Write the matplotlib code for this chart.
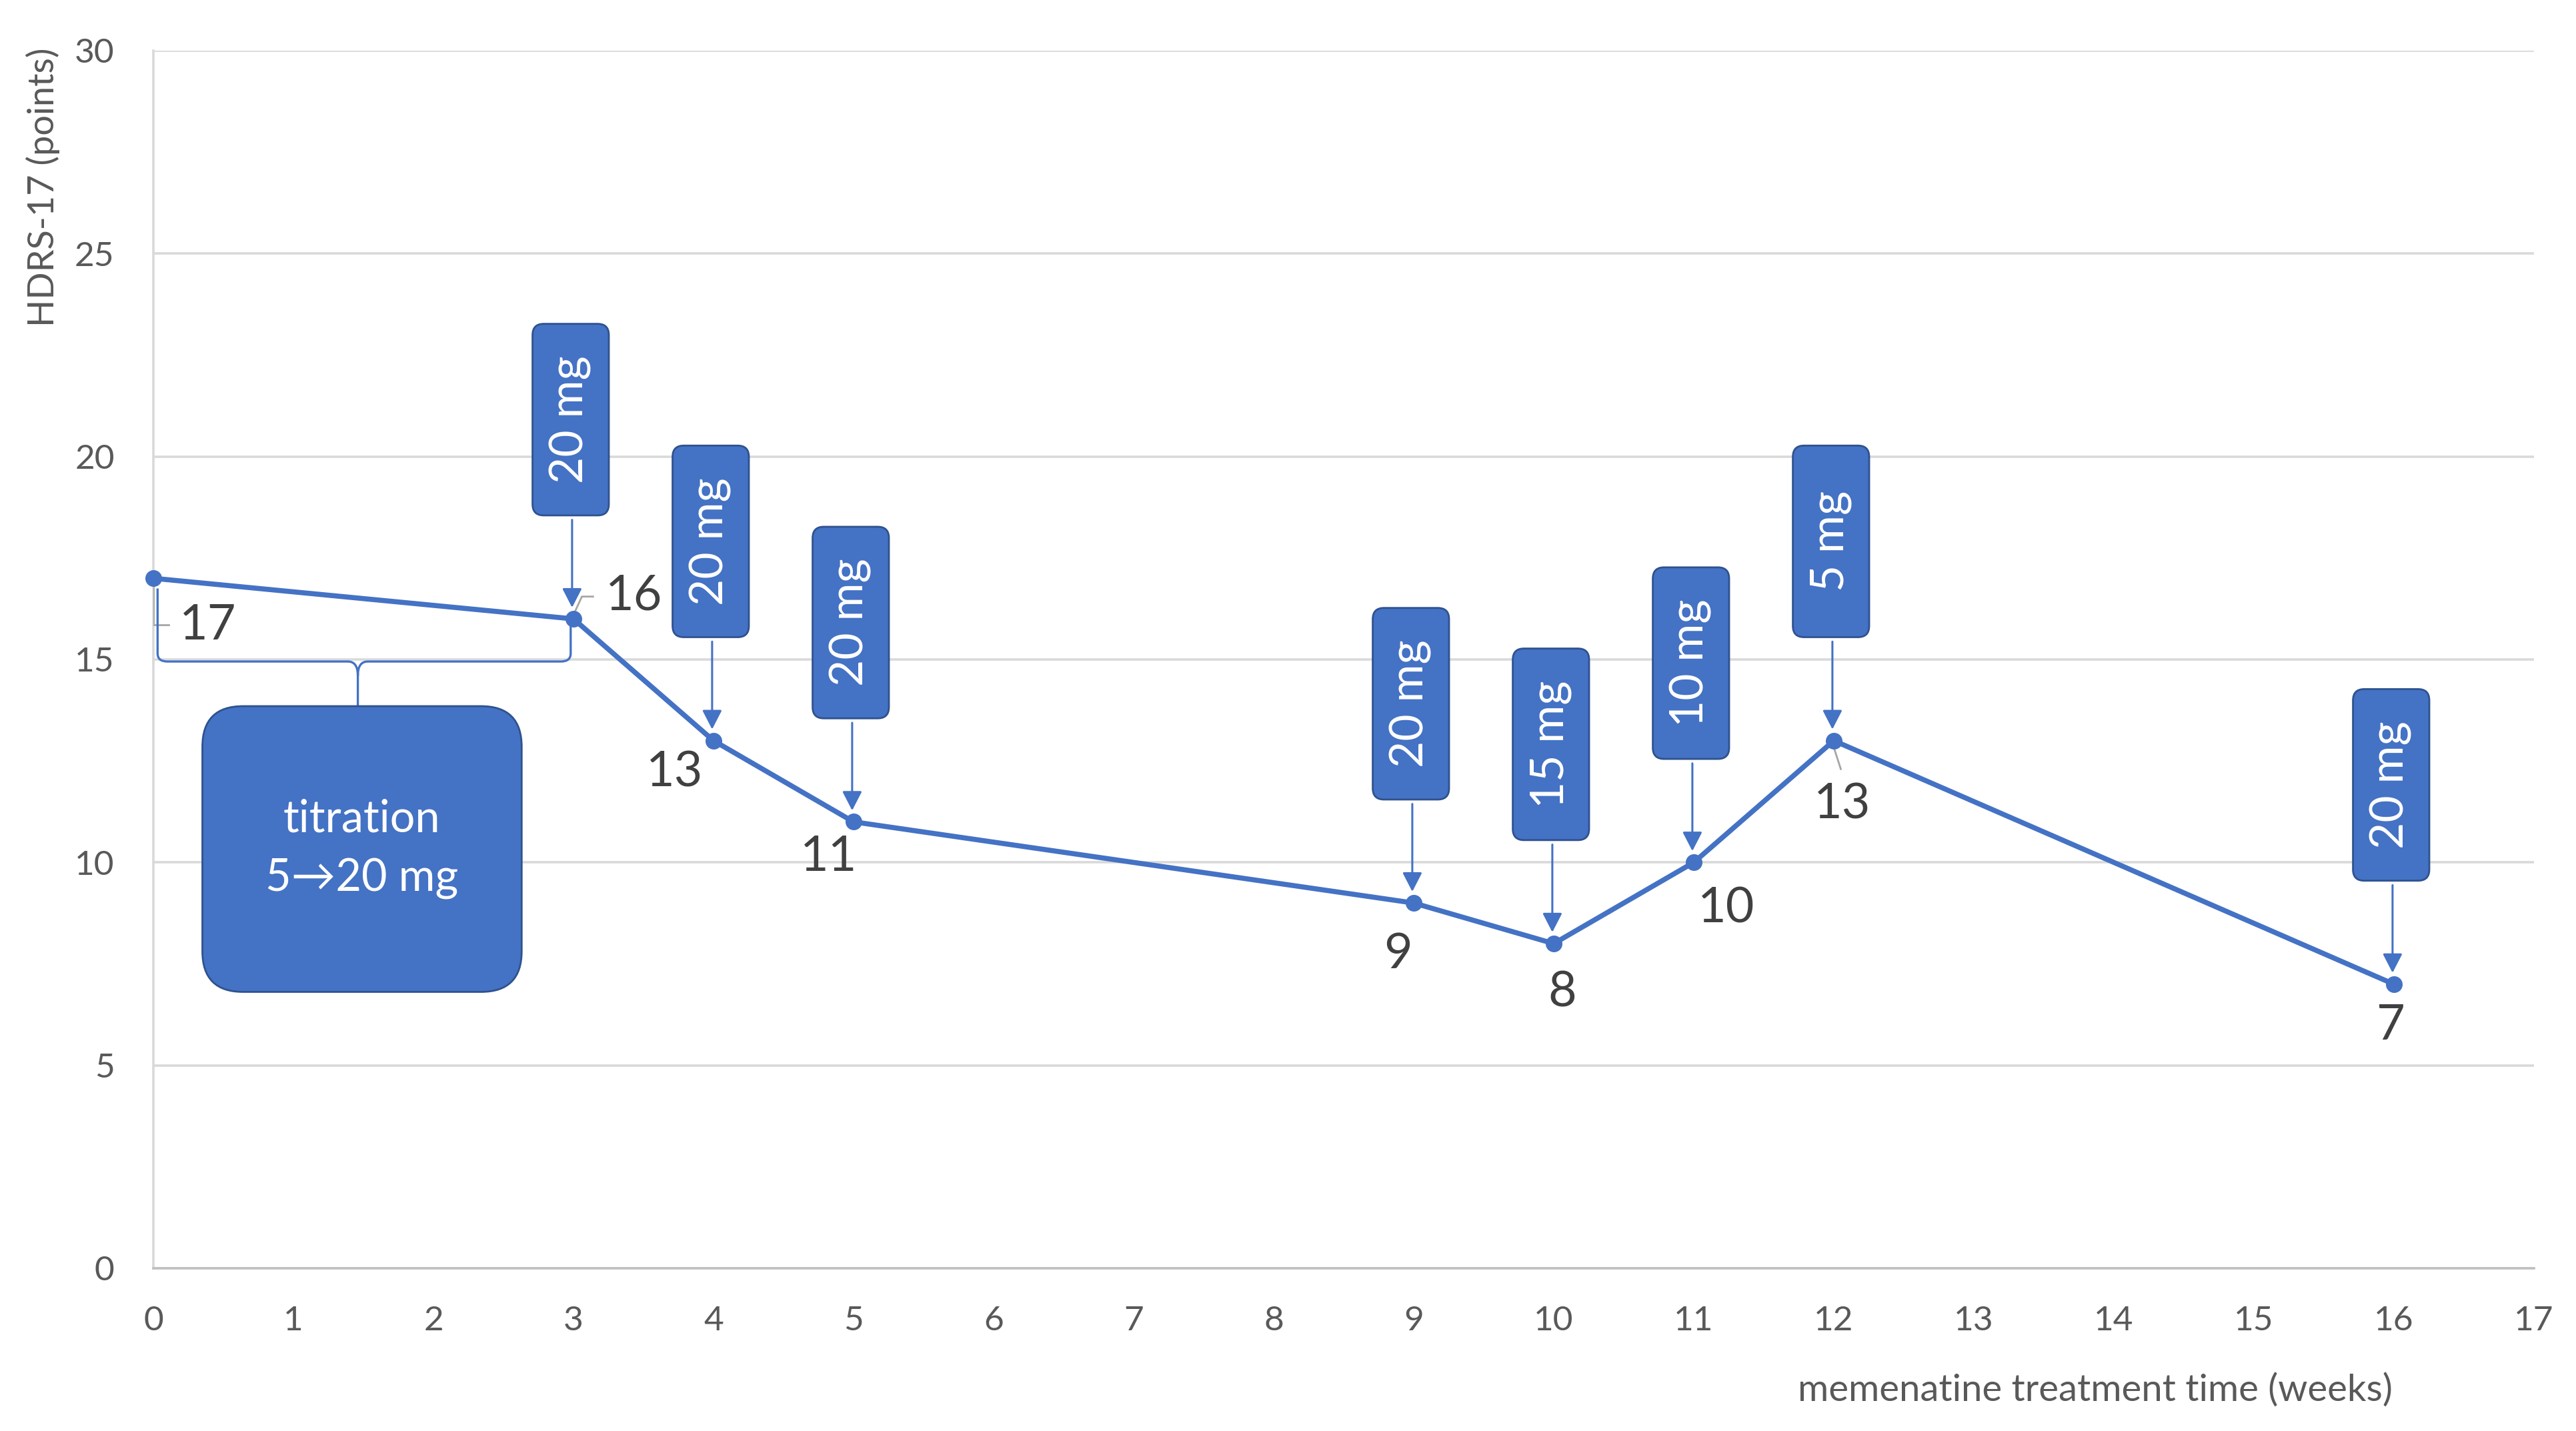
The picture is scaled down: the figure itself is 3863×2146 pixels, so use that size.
import numpy as np
from matplotlib import pyplot as plt
from matplotlib.patches import FancyBboxPatch, PathPatch
from matplotlib.path import Path

plt.rcParams["font.family"] = ["Lato", "DejaVu Sans"]

# data
weeks = [0, 3, 4, 5, 9, 10, 11, 12, 16]
hdrs = [17, 16, 13, 11, 9, 8, 10, 13, 7]

dose_weeks = [3, 4, 5, 9, 10, 11, 12, 16]
dose_labels = ["20 mg", "20 mg", "20 mg", "20 mg", "15 mg", "10 mg", "5 mg", "20 mg"]

titration_text = "titration\n5\u219220 mg"
x_ticks = list(range(0, 18))
y_ticks = [0, 5, 10, 15, 20, 25, 30]

# label placement relative to each point (x, y offsets in data units)
label_offsets = [(0.39, -1.17), (0.43, 0.56), (-0.28, -0.80), (-0.18, -0.87),
                 (-0.11, -1.27), (0.06, -1.22), (0.23, -1.14), (0.06, -1.58),
                 (-0.02, -1.03)]

BLUE = "#4472C4"
EDGE = "#2F528F"
ASPECT = 3.45  # y-units per x-unit in pixels

fig = plt.figure(figsize=(38.63, 21.46), dpi=100)
ax = fig.add_axes([0.05954, 0.1137, 0.92415, 0.85089])
ax.set_xlim(0, 17)
ax.set_ylim(0, 30)
ax.set_xticks(x_ticks)
ax.set_yticks(y_ticks)
ax.tick_params(axis="both", length=0, labelsize=37, labelcolor="#595959")
ax.tick_params(axis="y", pad=42)
ax.tick_params(axis="x", pad=40)
ax.grid(axis="y", color="#D9D9D9", linewidth=2.6)
ax.set_axisbelow(True)
for s in ["top", "right"]:
    ax.spines[s].set_visible(False)
ax.spines["left"].set_color("#D9D9D9")
ax.spines["left"].set_linewidth(2.6)
ax.spines["bottom"].set_color("#BFBFBF")
ax.spines["bottom"].set_linewidth(2.6)

ax.set_ylabel("HDRS-17 (points)", fontsize=39, color="#595959")
ax.yaxis.set_label_coords(-0.0392, 0.8877)
ax.set_xlabel("memenatine treatment time (weeks)", fontsize=40.5, color="#595959")
ax.xaxis.set_label_coords(0.8157, -0.086)

ax.plot(weeks, hdrs, color=BLUE, linewidth=5.5, marker="o", markersize=17,
        zorder=4, clip_on=False)

# data labels
for x, y, (dx, dy) in zip(weeks, hdrs, label_offsets):
    ax.text(x + dx, y + dy, str(y), fontsize=53, color="#404040",
            ha="center", va="center", zorder=5)

# small gray leader lines
ax.plot([0.0, 0.0, 0.11], [16.9, 15.85, 15.85], color="#A6A6A6", lw=2, zorder=3)
ax.plot([3.0, 3.06, 3.14], [16.1, 16.55, 16.55], color="#A6A6A6", lw=2, zorder=3)
ax.plot([11.99, 12.05], [12.94, 12.3], color="#A6A6A6", lw=2, zorder=3)

# dose callouts
box_w = 0.545
box_h = 4.72
box_gap = 2.55
for wk, lab in zip(dose_weeks, dose_labels):
    val = hdrs[weeks.index(wk)]
    y0 = val + box_gap
    box = FancyBboxPatch((wk - box_w / 2 - 0.02, y0), box_w, box_h,
                         boxstyle="round,pad=0,rounding_size=0.08",
                         mutation_aspect=ASPECT, facecolor=BLUE,
                         edgecolor=EDGE, linewidth=2, zorder=6)
    ax.add_patch(box)
    ax.text(wk - 0.02, y0 + box_h / 2, lab, rotation=90, fontsize=50,
            color="white", ha="center", va="center", zorder=7)
    ax.annotate("", xy=(wk - 0.01, val + 0.28), xytext=(wk - 0.01, y0 - 0.11),
                arrowprops=dict(arrowstyle="-|>,head_length=0.7,head_width=0.36",
                                mutation_scale=25, color=BLUE, lw=2.2,
                                shrinkA=0, shrinkB=0),
                zorder=5)

# titration brace
mid = 1.46
yb = 14.95
verts = [(0.03, 16.75), (0.03, 15.15), (0.03, yb), (0.1, yb), (mid - 0.07, yb),
         (mid, yb), (mid, 14.6),
         (2.98, 15.95), (2.98, 15.15), (2.98, yb), (2.91, yb), (mid + 0.07, yb),
         (mid, yb), (mid, 14.6),
         (mid, 14.6), (mid, 13.85)]
codes = [Path.MOVETO, Path.LINETO, Path.CURVE3, Path.CURVE3, Path.LINETO,
         Path.CURVE3, Path.CURVE3,
         Path.MOVETO, Path.LINETO, Path.CURVE3, Path.CURVE3, Path.LINETO,
         Path.CURVE3, Path.CURVE3,
         Path.MOVETO, Path.LINETO]
ax.add_patch(PathPatch(Path(verts, codes), facecolor="none", edgecolor=BLUE,
                       linewidth=2.4, zorder=3))

tbox = FancyBboxPatch((0.35, 6.81), 2.28, 7.04,
                      boxstyle="round,pad=0,rounding_size=0.29",
                      mutation_aspect=ASPECT, facecolor=BLUE, edgecolor=EDGE,
                      linewidth=2, zorder=6)
ax.add_patch(tbox)
ax.text(1.49, 10.33, titration_text, fontsize=48, color="white", ha="center",
        va="center", linespacing=1.55, zorder=7)

plt.savefig("out.png", dpi=100)
